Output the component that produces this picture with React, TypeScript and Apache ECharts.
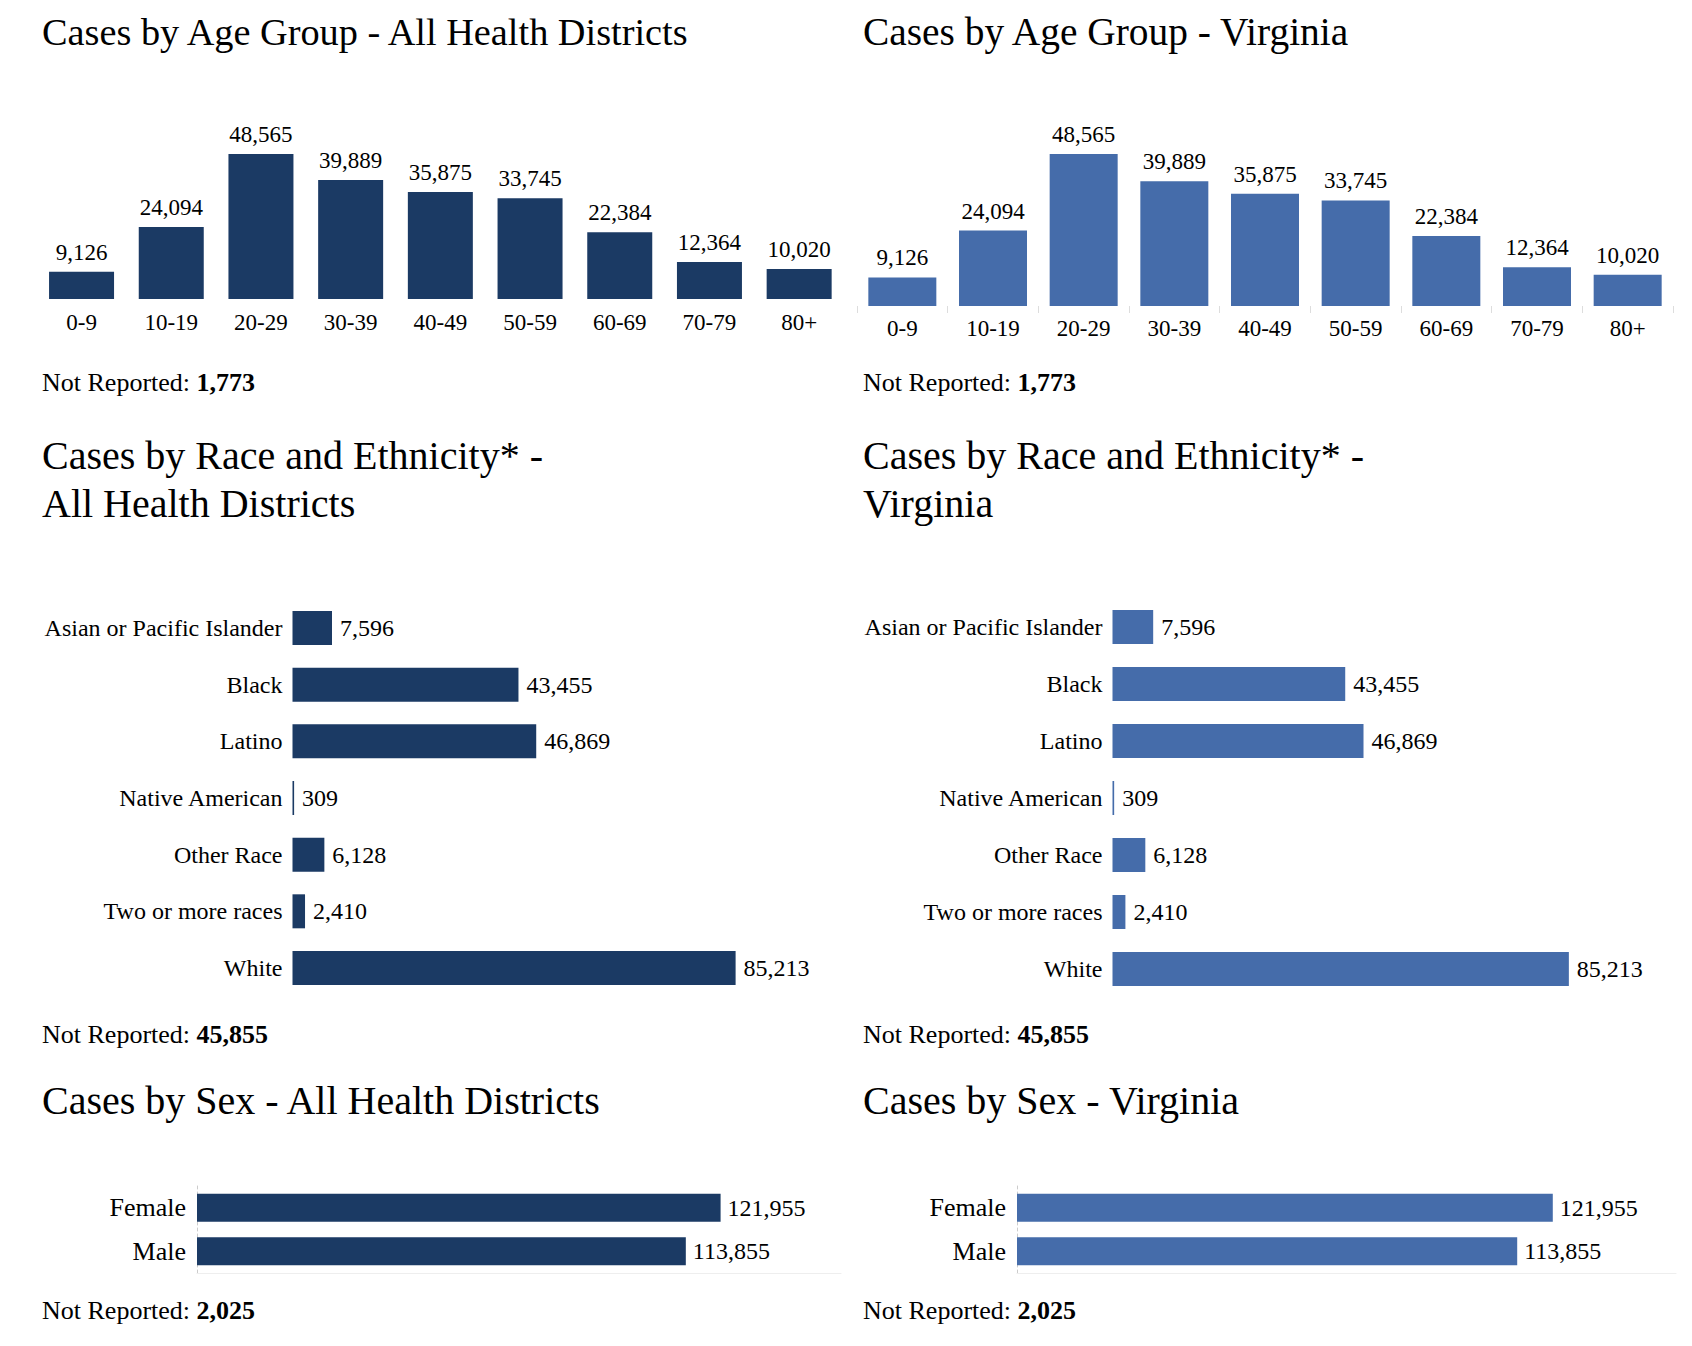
import React, { useEffect, useRef } from "react";
import * as echarts from "echarts";

const AGE_GROUPS = ["0-9", "10-19", "20-29", "30-39", "40-49", "50-59", "60-69", "70-79", "80+"];
const AGE_CASES = [9126, 24094, 48565, 39889, 35875, 33745, 22384, 12364, 10020];
const RACE_GROUPS = [
  "Asian or Pacific Islander",
  "Black",
  "Latino",
  "Native American",
  "Other Race",
  "Two or more races",
  "White",
];
const RACE_CASES = [7596, 43455, 46869, 309, 6128, 2410, 85213];
const SEX_GROUPS = ["Female", "Male"];
const SEX_CASES = [121955, 113855];
const NOT_REPORTED_AGE = 1773;
const NOT_REPORTED_RACE = 45855;
const NOT_REPORTED_SEX = 2025;
const REGIONS = ["All Health Districts", "Virginia"];

const FONT = '"Liberation Serif", "Times New Roman", Times, serif';
const fmt = (v: number) => v.toLocaleString("en-US");

// layout per panel (left / right)
const PANELS = [
  {
    color: "#1b3a64",
    tx: 42,
    ageTitleSize: 38.3,
    age: { left: 36.7, right: 844, top: 149.7, bottom: 299, barWidth: 65, ticks: false, margin: 11.7 },
    race: { left: 292.5, width: 468, top: 599.7, height: 396.6, barWidth: 34 },
    sex: { left: 197, width: 644, top: 1186, height: 87, barWidth: 28 },
  },
  {
    color: "#456caa",
    tx: 863,
    ageTitleSize: 39.4,
    age: { left: 857, right: 1673, top: 149.5, bottom: 306, barWidth: 68, ticks: true, margin: 10.7 },
    race: { left: 1112.5, width: 482, top: 598.5, height: 399, barWidth: 34 },
    sex: { left: 1017, width: 659, top: 1186, height: 87, barWidth: 28 },
  },
];

function buildOption() {
  const grid: any[] = [];
  const xAxis: any[] = [];
  const yAxis: any[] = [];
  const series: any[] = [];
  const graphic: any[] = [];

  const txt = (x: number, y: number, text: string, size: number, rich?: any) => ({
    type: "text",
    x,
    y,
    silent: true,
    style: {
      text,
      fill: "#000",
      font: `normal ${size}px ${FONT}`,
      fontSize: size,
      fontFamily: FONT,
      align: "left",
      verticalAlign: "middle",
      rich,
    },
  });
  const richBold = (size: number) => ({
    b: { fontWeight: "bold", fontSize: size, fontFamily: FONT, fill: "#000", color: "#000" },
  });

  PANELS.forEach((p, i) => {
    const region = REGIONS[i];
    // titles
    graphic.push(txt(p.tx, 45 - 0.3375 * p.ageTitleSize, `Cases by Age Group - ${region}`, p.ageTitleSize));
    graphic.push(txt(p.tx, 455.5, "Cases by Race and Ethnicity* -", 40));
    graphic.push(txt(p.tx, 503.5, region, 40));
    graphic.push(txt(p.tx, 1100.5, `Cases by Sex - ${region}`, 40));
    graphic.push(txt(p.tx, 382.2, `Not Reported: {b|${fmt(NOT_REPORTED_AGE)}}`, 26, richBold(26)));
    graphic.push(txt(p.tx, 1034.8, `Not Reported: {b|${fmt(NOT_REPORTED_RACE)}}`, 26, richBold(26)));
    graphic.push(txt(p.tx, 1310.2, `Not Reported: {b|${fmt(NOT_REPORTED_SEX)}}`, 26, richBold(26)));

    // age chart
    const gA = grid.length;
    grid.push({
      left: p.age.left,
      top: p.age.top,
      width: p.age.right - p.age.left,
      height: p.age.bottom - p.age.top,
      containLabel: false,
      outerBoundsMode: "none",
    });
    xAxis.push({
      gridIndex: gA,
      type: "category",
      data: AGE_GROUPS,
      axisLine: { show: false },
      axisTick: { show: p.age.ticks, length: 7, lineStyle: { color: "#dddddd", width: 1 } },
      axisLabel: { margin: p.age.margin, fontSize: 23, fontFamily: FONT, color: "#000" },
      splitLine: { show: false },
    });
    yAxis.push({ gridIndex: gA, type: "value", min: 0, max: 50000, show: false });
    series.push({
      type: "bar",
      xAxisIndex: gA,
      yAxisIndex: gA,
      data: AGE_CASES,
      barWidth: p.age.barWidth,
      itemStyle: { color: p.color },
      label: {
        show: true,
        position: "top",
        distance: 8,
        fontSize: 23,
        fontFamily: FONT,
        color: "#000",
        formatter: (d: any) => fmt(d.value),
      },
    });

    // race chart
    const gR = grid.length;
    grid.push({
      left: p.race.left,
      top: p.race.top,
      width: p.race.width,
      height: p.race.height,
      containLabel: false,
      outerBoundsMode: "none",
    });
    xAxis.push({ gridIndex: gR, type: "value", min: 0, max: 90000, show: false });
    yAxis.push({
      gridIndex: gR,
      type: "category",
      inverse: true,
      data: RACE_GROUPS,
      axisLine: { show: false },
      axisTick: { show: false },
      axisLabel: {
        margin: 10,
        fontSize: 24,
        fontFamily: FONT,
        color: "#000",
        padding: [0, 0, 6, 0],
      },
      splitLine: { show: false },
    });
    series.push({
      type: "bar",
      xAxisIndex: gR,
      yAxisIndex: gR,
      data: RACE_CASES,
      barWidth: p.race.barWidth,
      barMinHeight: 1.5,
      itemStyle: { color: p.color },
      label: {
        show: true,
        position: "right",
        distance: 8,
        fontSize: 24,
        fontFamily: FONT,
        color: "#000",
        formatter: (d: any) => fmt(d.value),
      },
    });

    // sex chart
    const gS = grid.length;
    grid.push({
      left: p.sex.left,
      top: p.sex.top,
      width: p.sex.width,
      height: p.sex.height,
      containLabel: false,
      outerBoundsMode: "none",
    });
    xAxis.push({
      gridIndex: gS,
      type: "value",
      min: 0,
      max: 150000,
      axisLine: { show: true, lineStyle: { color: "#eeeeee", width: 1 } },
      axisTick: { show: false },
      axisLabel: { show: false },
      splitLine: { show: false },
    });
    yAxis.push({
      gridIndex: gS,
      type: "category",
      inverse: true,
      data: SEX_GROUPS,
      axisLine: { show: true, lineStyle: { color: "#cccccc", width: 1, type: [3, 3] } },
      axisTick: { show: false },
      axisLabel: { margin: 11, fontSize: 26, fontFamily: FONT, color: "#000" },
      splitLine: { show: false },
    });
    series.push({
      type: "bar",
      xAxisIndex: gS,
      yAxisIndex: gS,
      data: SEX_CASES,
      barWidth: p.sex.barWidth,
      itemStyle: { color: p.color },
      label: {
        show: true,
        position: "right",
        distance: 7,
        fontSize: 24,
        fontFamily: FONT,
        color: "#000",
        formatter: (d: any) => fmt(d.value),
      },
    });
  });

  return {
    animation: false,
    backgroundColor: "#ffffff",
    textStyle: { fontFamily: FONT },
    grid,
    xAxis,
    yAxis,
    series,
    graphic,
  };
}

export default function App() {
  const ref = useRef<HTMLDivElement>(null);
  useEffect(() => {
    if (!ref.current) return;
    const chart = echarts.init(ref.current, undefined, { renderer: "svg" });
    chart.setOption(buildOption() as any);
    return () => chart.dispose();
  }, []);
  return (
    <div
      ref={ref}
      style={{ position: "absolute", left: 0, top: 0, width: 1692, height: 1346, background: "#fff" }}
    />
  );
}
